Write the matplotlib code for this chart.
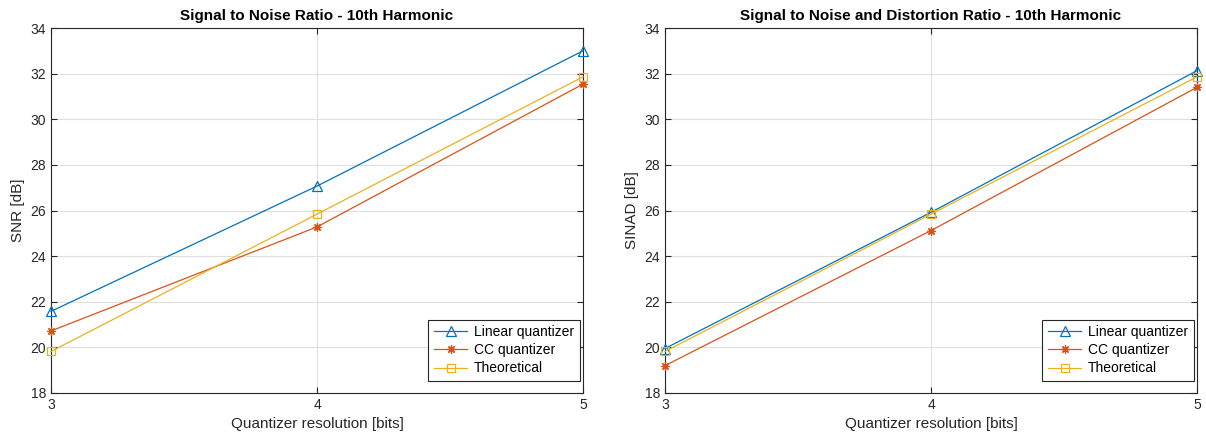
import matplotlib.pyplot as plt

plt.rcParams['font.family'] = ['Liberation Sans', 'DejaVu Sans']

# data
bits = [3, 4, 5]
snr_linear = [21.58, 27.07, 33.0]
snr_cc = [20.72, 25.28, 31.54]
snr_theory = [19.82, 25.84, 31.86]
sinad_linear = [19.95, 25.92, 32.13]
sinad_cc = [19.2, 25.12, 31.4]
sinad_theory = [19.82, 25.84, 31.86]

titles = ["Signal to Noise Ratio - 10th Harmonic",
          "Signal to Noise and Distortion Ratio - 10th Harmonic"]
ylabels = ["SNR [dB]", "SINAD [dB]"]
labels = ["Linear quantizer", "CC quantizer", "Theoretical"]
colors = ["#0072BD", "#D95319", "#EDB120"]
markers = ["^", (8, 2, 0), "s"]

fig = plt.figure(figsize=(12.06, 4.41), dpi=100)
ax1 = fig.add_axes([51/1206, 1 - 393/441, 532/1206, 365/441])
ax2 = fig.add_axes([665/1206, 1 - 393/441, 532/1206, 365/441])

axc = "#262626"
for ax, title, ylab, series in [
        (ax1, titles[0], ylabels[0], [snr_linear, snr_cc, snr_theory]),
        (ax2, titles[1], ylabels[1], [sinad_linear, sinad_cc, sinad_theory])]:
    for ys, lab, c, m in zip(series, labels, colors, markers):
        ax.plot(bits, ys, color=c, marker=m, markersize=6 if m != "^" else 7,
                markerfacecolor="none", markeredgecolor=c, markeredgewidth=0.9,
                linewidth=0.9, label=lab, clip_on=False, zorder=3)
    ax.set_xlim(3, 5)
    ax.set_ylim(18, 34)
    ax.set_xticks(bits)
    ax.set_yticks(range(18, 35, 2))
    ax.grid(True, color="#dfdfdf", linewidth=0.8)
    ax.set_axisbelow(True)
    ax.tick_params(direction="in", length=4, colors=axc, labelsize=10,
                   top=True, right=True, labelcolor=axc)
    for s in ax.spines.values():
        s.set_color(axc)
        s.set_linewidth(0.8)
    ax.set_title(title, fontsize=11, fontweight="bold", color="black", pad=6)
    ax.set_xlabel("Quantizer resolution [bits]", fontsize=11, color=axc)
    ax.set_ylabel(ylab, fontsize=11, color=axc)
    leg = ax.legend(loc="lower right", bbox_to_anchor=(0.994, 0.033),
                    fontsize=10, fancybox=False, framealpha=1, edgecolor=axc,
                    handlelength=2.4, handletextpad=0.5, borderaxespad=0,
                    labelspacing=0.3, borderpad=0.4)
    leg.get_frame().set_linewidth(0.8)

fig.savefig("out.png", dpi=100)
